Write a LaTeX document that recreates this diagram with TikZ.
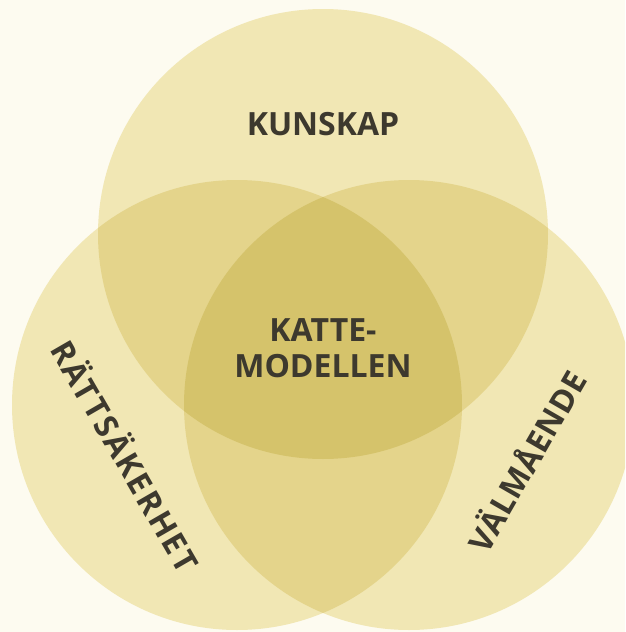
\documentclass[tikz,border=0pt]{standalone}
\usepackage{fontspec}
\setmainfont{Open Sans}
\definecolor{bgc}{HTML}{FDFBF0}
\definecolor{onec}{HTML}{F1E7B4}
\definecolor{twoc}{HTML}{E4D48B}
\definecolor{threec}{HTML}{D5C36B}
\definecolor{txtc}{HTML}{3D392E}
\begin{document}
\begin{tikzpicture}[x=1pt,y=-1pt,
  lbl/.style={font=\bfseries\fontsize{32}{36}\selectfont, text=txtc, align=center, inner sep=0pt}]
\useasboundingbox (0,0) rectangle (625,632);
\clip (0,0) rectangle (625,632);
\fill[bgc] (0,0) rectangle (625,632);
\coordinate (cA) at (323,234);
\coordinate (cB) at (237,405);
\coordinate (cC) at (409,405);
\def\R{225}
\fill[onec] (cA) circle (\R);
\fill[onec] (cB) circle (\R);
\fill[onec] (cC) circle (\R);
\begin{scope}\clip (cA) circle (\R); \fill[twoc] (cB) circle (\R); \end{scope}
\begin{scope}\clip (cA) circle (\R); \fill[twoc] (cC) circle (\R); \end{scope}
\begin{scope}\clip (cB) circle (\R); \fill[twoc] (cC) circle (\R); \end{scope}
\begin{scope}\clip (cA) circle (\R); \clip (cB) circle (\R); \fill[threec] (cC) circle (\R); \end{scope}
\node[lbl] (kunskap) at (323,124) {KUNSKAP};
\node[lbl] (katte) at (323,348) {KATTE-\\MODELLEN};
\node[lbl, rotate=-60] (ratt) at (127,455) {\addfontfeatures{LetterSpace=6}RÄTTSÄKERHET};
\node[lbl, rotate=60] (valm) at (525,460) {\addfontfeatures{LetterSpace=2}VÄLMÅENDE};
\end{tikzpicture}
\end{document}
